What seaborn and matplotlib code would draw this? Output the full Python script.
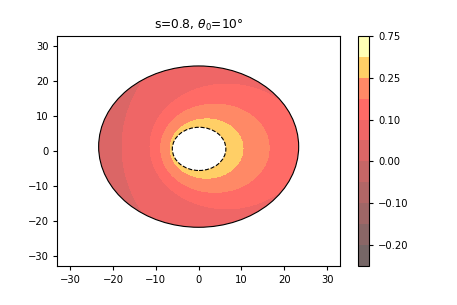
import numpy as np
import matplotlib
matplotlib.use('Agg')
import matplotlib.pyplot as plt
from matplotlib.colors import ListedColormap
from matplotlib.patches import Ellipse
import seaborn as sns

# levels of the colour scale (filled contours)
levels = [-0.25, -0.20, -0.15, -0.10, -0.05, 0.00, 0.05, 0.10, 0.15, 0.25, 0.50, 0.75]
cbar_ticks = [-0.20, -0.10, 0.00, 0.10, 0.25, 0.75]

# value of each band in the disc, from the rim inward
band_values = [0.025, 0.075, 0.125, 0.20, 0.30]
# circle where each inner band starts (contours 0.05, 0.10, 0.15, 0.25)
edge_cx = [21.1, 6.55, 3.8, 1.85]
edge_cy = [1.2, 1.3, 0.8, 0.7]
edge_r = [39.0, 17.9, 12.65, 8.5]

# disc rim and inner hole (centre x, centre y, half width, half height)
rim = (0.0, 1.25, 23.35, 23.15)
hole = (0.1, 0.6, 6.25, 6.2)

title = 's=0.8, $\\theta_0$=10°'

sns.set_style('ticks')
plt.rcParams['font.family'] = ['DejaVu Sans']
plt.rcParams['text.color'] = 'black'
plt.rcParams['axes.edgecolor'] = 'black'
plt.rcParams['xtick.color'] = 'black'
plt.rcParams['ytick.color'] = 'black'
plt.rcParams['xtick.major.size'] = 2.8
plt.rcParams['ytick.major.size'] = 2.8

fig = plt.figure(figsize=(4.57, 3.05), dpi=100)
ax = fig.add_axes([0.1254, 0.128, 0.6186, 0.754])
cax = fig.add_axes([0.784, 0.129, 0.024, 0.753])

# field on a fine grid: count how many band circles each point is inside
xs = np.linspace(-24, 24, 1200)
ys = np.linspace(-23, 25.5, 1200)
X, Y = np.meshgrid(xs, ys)
count = np.zeros(X.shape, dtype=int)
for cx, cy, r in zip(edge_cx, edge_cy, edge_r):
    count += (np.hypot(X - cx, Y - cy) < r)
Z = np.array(band_values)[count]

# 'hot' seen through 60 % opacity on white, made opaque to avoid seams
hot = np.array(sns.color_palette('hot', 256))
cmap = ListedColormap(0.6 * hot + 0.4)
cs = ax.contourf(X, Y, Z, levels=levels, cmap=cmap)

# clip to the disc and draw its rim
outline = Ellipse((rim[0], rim[1]), 2 * rim[2], 2 * rim[3],
                  fill=False, ec='black', lw=0.8, zorder=3)
ax.add_patch(outline)
cs.set_clip_path(outline)

# inner hole, dashed
ax.add_patch(Ellipse((hole[0], hole[1]), 2 * hole[2], 2 * hole[3],
                     fc='white', ec='black', ls='--', lw=0.8, zorder=4))

ax.set_xlim(-33, 33)
ax.set_ylim(-33, 33)
ax.set_xticks(np.arange(-30, 31, 10))
ax.set_yticks(np.arange(-30, 31, 10))
ax.tick_params(labelsize=7.2, width=0.8)
for s in ax.spines.values():
    s.set_linewidth(0.8)
ax.set_title(title, fontsize=8.8, pad=5)

cbar = fig.colorbar(cs, cax=cax)
cbar.set_ticks(cbar_ticks)
cbar.ax.tick_params(labelsize=7.2, width=0.8, length=2.8)
cbar.outline.set_linewidth(0.8)

fig.savefig('out.png', dpi=100)
